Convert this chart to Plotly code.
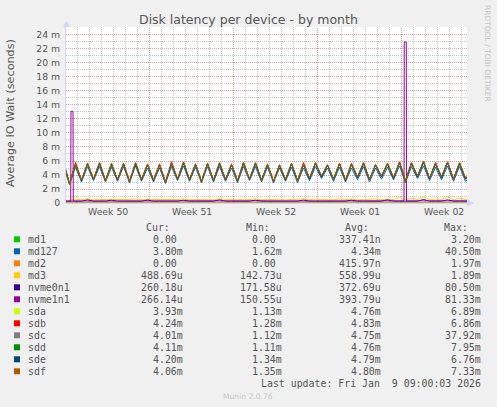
import pandas as pd
import plotly.graph_objects as go

# one sample every 12 h: odd index = 08:00 trough, even index = 20:00 peak
sample_times = pd.date_range("2025-12-06 20:00", periods=69, freq="12h")

sdf_vals = [5.9,
            2.7, 5.6, 3.3, 5.7, 3.5, 5.8, 3.2, 5.6, 3.4, 5.7, 3.1, 5.8, 3.4, 5.6,
            3.3, 5.5, 3.0, 5.7, 3.5, 5.9, 3.4, 5.6, 3.1, 5.7, 3.3, 5.8, 3.4, 5.6,
            3.2, 5.7, 3.5, 5.8, 3.3, 5.6, 3.1, 5.5, 3.4, 5.7, 3.2, 5.6, 3.6, 5.8,
            3.9, 5.5, 3.5, 5.7, 3.3, 5.6, 3.8, 5.8, 3.4, 5.5, 3.9, 5.7, 3.7, 5.9,
            3.2, 5.8, 3.9, 6.0, 3.6, 5.7, 3.8, 5.9, 3.5, 5.8, 3.6, 4.4]
md127_vals = [5.3,
              2.6, 5.1, 3.0, 5.2, 3.2, 5.2, 3.0, 5.1, 3.1, 5.2, 2.9, 5.3, 3.1, 5.0,
              3.0, 5.0, 2.8, 5.2, 3.2, 5.3, 3.1, 5.1, 2.9, 5.2, 3.0, 5.2, 3.1, 5.0,
              2.9, 5.2, 3.2, 5.2, 3.0, 5.1, 2.9, 5.0, 3.1, 5.1, 2.9, 5.0, 3.2, 5.2,
              3.5, 5.0, 3.1, 5.1, 3.0, 5.0, 3.3, 5.2, 3.0, 5.0, 3.4, 5.1, 3.3, 5.3,
              2.9, 5.2, 3.5, 5.3, 3.2, 5.1, 3.3, 5.3, 3.1, 5.2, 3.1, 4.0]
sdb_vals = [5.9,
            2.8, 5.8, 3.3, 5.6, 3.4, 5.7, 3.2, 5.5, 3.3, 5.6, 3.1, 5.7, 3.3, 5.5,
            3.3, 5.6, 3.0, 5.9, 3.4, 5.8, 3.3, 5.5, 3.1, 5.6, 3.3, 5.7, 3.3, 5.5,
            3.2, 5.8, 3.4, 5.7, 3.2, 5.5, 3.1, 5.4, 3.3, 5.6, 3.2, 5.8, 3.5, 5.7,
            3.8, 5.4, 3.4, 5.6, 3.3, 5.7, 3.7, 5.6, 3.4, 5.4, 3.8, 5.6, 3.6, 5.8,
            3.2, 5.7, 3.8, 5.9, 3.5, 5.8, 3.7, 5.8, 3.4, 5.6, 3.5, 4.3]
sdd_vals = [5.8,
            2.7, 5.5, 3.2, 5.6, 3.4, 5.7, 3.2, 5.7, 3.3, 5.6, 3.1, 5.7, 3.3, 5.5,
            3.2, 5.4, 3.0, 5.6, 3.4, 5.8, 3.3, 5.6, 3.1, 5.6, 3.2, 5.7, 3.3, 5.5,
            3.1, 5.8, 3.4, 5.7, 3.3, 5.5, 3.1, 5.4, 3.3, 5.6, 3.2, 5.5, 3.5, 5.7,
            3.8, 5.4, 3.4, 5.6, 3.2, 5.5, 3.7, 5.7, 3.4, 5.5, 3.8, 5.6, 3.6, 5.8,
            3.1, 5.7, 3.8, 5.9, 3.5, 5.6, 3.7, 5.8, 3.4, 5.7, 3.5, 4.3]
sda_vals = [5.8,
            2.7, 5.5, 3.2, 5.6, 3.4, 5.7, 3.1, 5.5, 3.3, 5.6, 3.0, 5.7, 3.3, 5.5,
            3.2, 5.4, 3.0, 5.6, 3.4, 5.8, 3.3, 5.5, 3.0, 5.6, 3.2, 5.7, 3.3, 5.5,
            3.1, 5.6, 3.4, 5.7, 3.2, 5.5, 3.0, 5.4, 3.3, 5.6, 3.1, 5.5, 3.5, 5.7,
            3.8, 5.4, 3.4, 5.6, 3.2, 5.5, 3.7, 5.7, 3.3, 5.4, 3.8, 5.6, 3.6, 5.8,
            3.1, 5.7, 3.8, 5.9, 3.5, 5.6, 3.7, 5.8, 3.4, 5.7, 3.5, 4.3]
sdc_vals = [5.8,
            2.7, 5.5, 3.2, 5.6, 3.4, 5.7, 3.1, 5.5, 3.3, 5.6, 3.0, 5.7, 3.3, 5.5,
            3.2, 5.4, 2.9, 5.6, 3.4, 5.8, 3.3, 5.5, 3.0, 5.6, 3.2, 5.7, 3.3, 5.5,
            3.1, 5.6, 3.4, 5.7, 3.2, 5.5, 3.0, 5.4, 3.3, 5.6, 3.1, 5.5, 3.5, 5.7,
            3.8, 5.4, 3.4, 5.6, 3.2, 5.5, 3.7, 5.7, 3.3, 5.4, 3.8, 5.6, 3.6, 5.8,
            3.1, 5.7, 3.8, 5.9, 3.5, 5.6, 3.7, 5.8, 3.4, 5.7, 3.5, 4.3]
sde_vals = [5.8,
            2.7, 5.5, 3.2, 5.6, 3.4, 5.6, 3.1, 5.5, 3.3, 5.6, 3.0, 5.6, 3.3, 5.5,
            3.2, 5.4, 2.9, 5.6, 3.4, 5.7, 3.3, 5.5, 3.0, 5.6, 3.2, 5.6, 3.3, 5.5,
            3.1, 5.6, 3.4, 5.6, 3.2, 5.5, 3.0, 5.4, 3.3, 5.6, 3.1, 5.5, 3.4, 5.7,
            3.7, 5.4, 3.4, 5.6, 3.2, 5.5, 3.6, 5.7, 3.3, 5.4, 3.7, 5.6, 3.5, 5.8,
            3.1, 5.7, 3.7, 5.8, 3.5, 5.6, 3.6, 5.8, 3.4, 5.7, 3.4, 4.2]
md3_vals = [0.45,
            0.40, 0.55, 0.50, 0.60, 0.45, 0.50, 0.50, 0.55, 0.45, 0.50, 0.50, 0.60, 0.45, 0.50,
            0.50, 0.55, 0.45, 0.50, 0.50, 0.60, 0.45, 0.50, 0.50, 0.55, 0.45, 0.60, 0.50, 0.50,
            0.45, 0.55, 0.50, 0.60, 0.45, 0.50, 0.50, 0.55, 0.45, 0.50, 0.50, 0.60, 0.45, 0.55,
            0.50, 0.50, 0.45, 0.60, 0.50, 0.55, 0.45, 0.50, 0.50, 0.60, 0.45, 0.55, 0.50, 0.80,
            0.45, 0.70, 0.50, 0.90, 0.50, 0.60, 0.50, 0.85, 0.45, 0.70, 0.50, 0.55]
nvme0n1_vals = [0.26,
                0.26, 0.27, 0.26, 0.45, 0.26, 0.27, 0.26, 0.40, 0.26, 0.27, 0.26, 0.26, 0.26, 0.42,
                0.26, 0.27, 0.26, 0.26, 0.26, 0.40, 0.26, 0.27, 0.26, 0.26, 0.26, 0.45, 0.26, 0.26,
                0.26, 0.27, 0.26, 0.40, 0.26, 0.26, 0.26, 0.27, 0.26, 0.26, 0.26, 0.42, 0.26, 0.26,
                0.26, 0.27, 0.26, 0.26, 0.26, 0.40, 0.26, 0.27, 0.26, 0.26, 0.26, 0.45, 0.26, 0.26,
                0.26, 0.27, 0.26, 0.50, 0.26, 0.27, 0.26, 0.45, 0.26, 0.27, 0.26, 0.26]

# nvme1n1 needs its own timestamps for the two narrow spikes
nvme1n1_times = ["2025-12-07 01:00", "2025-12-07 10:30", "2025-12-07 11:00", "2025-12-07 15:00",
                 "2025-12-07 15:30", "2025-12-10 12:00", "2025-12-13 12:00", "2025-12-16 12:00",
                 "2025-12-19 12:00", "2025-12-22 12:00", "2025-12-25 12:00", "2025-12-28 12:00",
                 "2025-12-31 12:00", "2026-01-02 12:00", "2026-01-04 05:00", "2026-01-04 05:30",
                 "2026-01-04 09:30", "2026-01-04 10:00", "2026-01-06 12:00", "2026-01-08 12:00",
                 "2026-01-09 11:00"]
nvme1n1_vals = [0.28, 0.28, 13.1, 13.1, 0.28, 0.30, 0.28, 0.30, 0.27, 0.30, 0.28,
                0.30, 0.29, 0.30, 0.30, 23.0, 23.0, 0.30, 0.33, 0.30, 0.30]

zero_times = ["2025-12-07 01:00", "2025-12-07 22:00", "2025-12-07 23:00", "2025-12-08 00:00", "2026-01-09 11:00"]
md1_vals = [0, 0, 0, 0, 0]
md2_vals = [0, 0, 0.2, 0, 0]

series_names = ["md1", "md127", "md2", "md3", "nvme0n1", "nvme1n1",
                "sda", "sdb", "sdc", "sdd", "sde", "sdf"]
series_colors = ["#00cc00", "#0066b3", "#ff8000", "#ffcc00", "#330099", "#990099",
                 "#ccff00", "#ff0000", "#808080", "#008f00", "#00487d", "#b35a00"]
series_x = [zero_times, sample_times, zero_times, sample_times, sample_times, nvme1n1_times,
            sample_times, sample_times, sample_times, sample_times, sample_times, sample_times]
series_y = [md1_vals, md127_vals, md2_vals, md3_vals, nvme0n1_vals, nvme1n1_vals,
            sda_vals, sdb_vals, sdc_vals, sdd_vals, sde_vals, sdf_vals]

cur_vals = ["0.00", "3.80m", "0.00", "488.69u", "260.18u", "266.14u",
            "3.93m", "4.24m", "4.01m", "4.11m", "4.20m", "4.06m"]
min_vals = ["0.00", "1.62m", "0.00", "142.73u", "171.58u", "150.55u",
            "1.13m", "1.28m", "1.12m", "1.11m", "1.34m", "1.35m"]
avg_vals = ["337.41n", "4.34m", "415.97n", "558.99u", "372.69u", "393.79u",
            "4.76m", "4.83m", "4.75m", "4.76m", "4.79m", "4.80m"]
max_vals = ["3.20m", "40.50m", "1.97m", "1.89m", "80.50m", "81.33m",
            "6.89m", "6.86m", "37.92m", "7.95m", "6.76m", "7.33m"]

y_ticks = [0, 2, 4, 6, 8, 10, 12, 14, 16, 18, 20, 22, 24]
y_tick_labels = ["0", "2 m", "4 m", "6 m", "8 m", "10 m", "12 m", "14 m",
                 "16 m", "18 m", "20 m", "22 m", "24 m"]
week_mids = ["2025-12-10 12:00", "2025-12-17 12:00", "2025-12-24 12:00",
             "2025-12-31 12:00", "2026-01-07 12:00"]
week_labels = ["Week 50", "Week 51", "Week 52", "Week 01", "Week 02"]
week_starts = ["2025-12-14", "2025-12-21", "2025-12-28", "2026-01-04"]

# plot area in page pixels
L, R, T, B = 66, 467, 27, 203
FONT = "#555555"
SANS = "DejaVu Sans"
MONO = "DejaVu Sans Mono"
MAJOR_GRID = "#e09c9c"
MINOR_GRID = "#c4c4c4"


def px(x):
    return (x - L) / (R - L)


def py(y):
    return (B - y) / (B - T)


fig = go.Figure()
for name, color, xs, ys in zip(series_names, series_colors, series_x, series_y):
    fig.add_trace(go.Scatter(x=xs, y=ys, name=name, mode="lines",
                             line=dict(color=color, width=1), showlegend=False))

annotations = []
shapes = []

# title, axis title, side text, footer
annotations.append(dict(text="Disk latency per device - by month", x=px(248), y=py(19.5),
                        font=dict(family=SANS, size=12.5, color=FONT)))
annotations.append(dict(text="Average IO Wait (seconds)", x=px(10.5), y=py(113.5), textangle=-90,
                        font=dict(family=SANS, size=11.2, color=FONT)))
annotations.append(dict(text="RRDTOOL / TOBI OETIKER", x=px(487.5), y=py(53.5), textangle=90,
                        font=dict(family=SANS, size=7.5, color="#c4c4c4")))
annotations.append(dict(text="Munin 2.0.76", x=px(248), y=py(396),
                        font=dict(family=SANS, size=7.6, color="#c8c8c8")))

# week labels under the axis
for wx, wl in zip(week_mids, week_labels):
    annotations.append(dict(text=wl, x=wx, xref="x", y=py(212),
                            font=dict(family=SANS, size=9.3, color=FONT)))

# legend table
for head, hx in zip(["Cur:", "Min:", "Avg:", "Max:"], [172.3, 271.7, 371, 470]):
    annotations.append(dict(text=head, x=px(hx), y=py(227.3), xanchor="right",
                            font=dict(family=MONO, size=9.9, color=FONT)))
for i, name in enumerate(series_names):
    row_y = 239.3 + 12 * i
    shapes.append(dict(type="rect", xref="paper", yref="paper",
                       x0=px(14), x1=px(20), y0=py(row_y - 3), y1=py(row_y + 3),
                       fillcolor=series_colors[i], line=dict(width=0)))
    annotations.append(dict(text=name, x=px(26), y=py(row_y), xanchor="left",
                            font=dict(family=MONO, size=9.9, color=FONT)))
    for col, cx in zip([cur_vals, min_vals, avg_vals, max_vals], [185, 284, 383.3, 482.7]):
        txt = col[i]
        if txt[-1].isdigit():
            txt = txt + "\u00a0"
        annotations.append(dict(text=txt, x=px(cx), y=py(row_y), xanchor="right",
                                font=dict(family=MONO, size=9.9, color=FONT)))
annotations.append(dict(text="Last update: Fri Jan\u00a0\u00a09 09:00:03 2026", x=px(482.7), y=py(383.3),
                        xanchor="right", font=dict(family=MONO, size=9.9, color=FONT)))

for a in annotations:
    a.setdefault("xref", "paper")
    a.setdefault("xanchor", "center")
    a["yref"] = "paper"
    a["yanchor"] = "middle"
    a["showarrow"] = False

# weekly (major) vertical grid
for ws in week_starts:
    shapes.append(dict(type="line", xref="x", yref="paper", x0=ws, x1=ws, y0=0, y1=1,
                       line=dict(color=MAJOR_GRID, width=1, dash="1px,1px"), layer="between"))

# axis arrows
axis_col = "#cfd6f8"
shapes.append(dict(type="path", xref="paper", yref="paper", fillcolor=axis_col, line=dict(width=0),
                   path=f"M {px(66.5)},{py(20.5)} L {px(63)},{py(27)} L {px(70)},{py(27)} Z"))
shapes.append(dict(type="path", xref="paper", yref="paper", fillcolor=axis_col, line=dict(width=0),
                   path=f"M {px(474)},{py(203)} L {px(467)},{py(199.5)} L {px(467)},{py(206.5)} Z"))

fig.update_layout(
    width=497, height=407,
    margin=dict(l=L, r=497 - R, t=T, b=407 - B, pad=0),
    paper_bgcolor="#f0f0f0", plot_bgcolor="#ffffff",
    annotations=annotations, shapes=shapes,
    xaxis=dict(type="date", range=["2025-12-07 01:00", "2026-01-09 11:00"],
               showticklabels=False, ticks="", showgrid=False, zeroline=False,
               showline=True, linecolor=axis_col, linewidth=1,
               minor=dict(tick0="2025-12-07", dtick=86400000, showgrid=True,
                          gridcolor=MINOR_GRID, griddash="1px,1px", ticks="")),
    yaxis=dict(range=[0, 25.14], tickvals=y_ticks, ticktext=y_tick_labels,
               tickfont=dict(family=SANS, size=9.3, color=FONT), ticks="",
               ticklabelstandoff=3,
               showgrid=True, gridcolor=MAJOR_GRID, griddash="1px,1px", gridwidth=1,
               zeroline=False, showline=True, linecolor=axis_col, linewidth=1,
               minor=dict(tick0=0, dtick=1, showgrid=True, gridcolor=MINOR_GRID,
                          griddash="1px,1px", ticks="")),
)

fig.write_html("out.html", config={"displayModeBar": False},
               post_script="document.body.style.margin='0';")
